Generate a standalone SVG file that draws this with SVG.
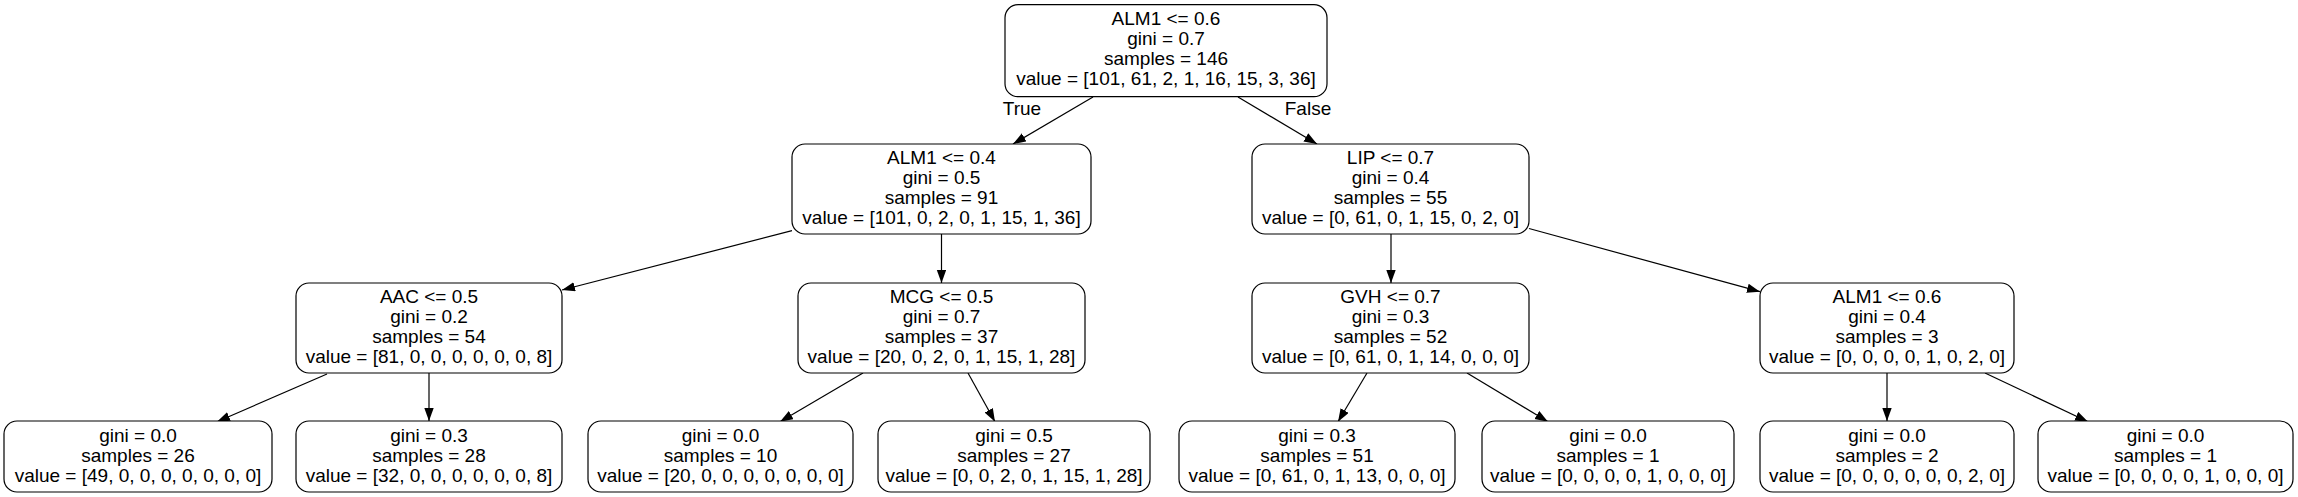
<svg xmlns="http://www.w3.org/2000/svg" width="2298" height="497" viewBox="0 0 2298 497">
<style>
.box{fill:#fff;stroke:#000;stroke-width:1.2}
text{font-family:"Liberation Sans",Arial,sans-serif;font-size:19px;fill:#000;text-anchor:middle}
.edge{stroke:#000;stroke-width:1.2;fill:none;marker-end:url(#arr)}
</style>
<defs>
<marker id="arr" markerUnits="userSpaceOnUse" markerWidth="14" markerHeight="10" refX="13" refY="4.7" orient="auto">
<path d="M0,0 L13,4.7 L0,9.4 z" fill="#000"/>
</marker>
</defs>
<rect width="2298" height="497" fill="#fff"/>
<g id="connectors">
<path class="edge" d="M1093,97 L1013,144"/>
<path class="edge" d="M1238,97 L1317,144"/>
<path class="edge" d="M792,230.7 L562,290"/>
<path class="edge" d="M941.5,234 L941.5,283"/>
<path class="edge" d="M1391,234 L1391,283"/>
<path class="edge" d="M1529,228.5 L1760,291.7"/>
<path class="edge" d="M327,374 L217,421.7"/>
<path class="edge" d="M429,373 L429,421"/>
<path class="edge" d="M863,373 L780,421.7"/>
<path class="edge" d="M968,373 L995,421.7"/>
<path class="edge" d="M1367,373 L1338,421.7"/>
<path class="edge" d="M1467,373 L1548,421.7"/>
<path class="edge" d="M1887,373 L1887,421"/>
<path class="edge" d="M1985,373 L2088,421.7"/>
<text x="1022" y="115">True</text>
<text x="1308" y="115">False</text>
</g>
<g id="n0">
<rect class="box" x="1005" y="4.7" width="322" height="92" rx="13"/>
<text x="1166" y="25">ALM1 &lt;= 0.6</text>
<text x="1166" y="45">gini = 0.7</text>
<text x="1166" y="65">samples = 146</text>
<text x="1166" y="85">value = [101, 61, 2, 1, 16, 15, 3, 36]</text>
</g>
<g id="n1">
<rect class="box" x="792" y="144" width="299" height="90" rx="13"/>
<text x="941.5" y="163.5">ALM1 &lt;= 0.4</text>
<text x="941.5" y="183.5">gini = 0.5</text>
<text x="941.5" y="203.5">samples = 91</text>
<text x="941.5" y="223.5">value = [101, 0, 2, 0, 1, 15, 1, 36]</text>
</g>
<g id="n8">
<rect class="box" x="1252" y="144" width="277" height="90" rx="13"/>
<text x="1390.5" y="163.5">LIP &lt;= 0.7</text>
<text x="1390.5" y="183.5">gini = 0.4</text>
<text x="1390.5" y="203.5">samples = 55</text>
<text x="1390.5" y="223.5">value = [0, 61, 0, 1, 15, 0, 2, 0]</text>
</g>
<g id="n2">
<rect class="box" x="296" y="283" width="266" height="90" rx="13"/>
<text x="429" y="303">AAC &lt;= 0.5</text>
<text x="429" y="323">gini = 0.2</text>
<text x="429" y="343">samples = 54</text>
<text x="429" y="363">value = [81, 0, 0, 0, 0, 0, 0, 8]</text>
</g>
<g id="n5">
<rect class="box" x="798" y="283" width="287" height="90" rx="13"/>
<text x="941.5" y="303">MCG &lt;= 0.5</text>
<text x="941.5" y="323">gini = 0.7</text>
<text x="941.5" y="343">samples = 37</text>
<text x="941.5" y="363">value = [20, 0, 2, 0, 1, 15, 1, 28]</text>
</g>
<g id="n9">
<rect class="box" x="1252" y="283" width="277" height="90" rx="13"/>
<text x="1390.5" y="303">GVH &lt;= 0.7</text>
<text x="1390.5" y="323">gini = 0.3</text>
<text x="1390.5" y="343">samples = 52</text>
<text x="1390.5" y="363">value = [0, 61, 0, 1, 14, 0, 0, 0]</text>
</g>
<g id="n12">
<rect class="box" x="1760" y="283" width="254" height="90" rx="13"/>
<text x="1887" y="303">ALM1 &lt;= 0.6</text>
<text x="1887" y="323">gini = 0.4</text>
<text x="1887" y="343">samples = 3</text>
<text x="1887" y="363">value = [0, 0, 0, 0, 1, 0, 2, 0]</text>
</g>
<g id="n3">
<rect class="box" x="4" y="421" width="268" height="71" rx="13"/>
<text x="138" y="441.5">gini = 0.0</text>
<text x="138" y="461.5">samples = 26</text>
<text x="138" y="481.5">value = [49, 0, 0, 0, 0, 0, 0, 0]</text>
</g>
<g id="n4">
<rect class="box" x="296" y="421" width="266" height="71" rx="13"/>
<text x="429" y="441.5">gini = 0.3</text>
<text x="429" y="461.5">samples = 28</text>
<text x="429" y="481.5">value = [32, 0, 0, 0, 0, 0, 0, 8]</text>
</g>
<g id="n6">
<rect class="box" x="588" y="421" width="265" height="71" rx="13"/>
<text x="720.5" y="441.5">gini = 0.0</text>
<text x="720.5" y="461.5">samples = 10</text>
<text x="720.5" y="481.5">value = [20, 0, 0, 0, 0, 0, 0, 0]</text>
</g>
<g id="n7">
<rect class="box" x="878" y="421" width="272" height="71" rx="13"/>
<text x="1014" y="441.5">gini = 0.5</text>
<text x="1014" y="461.5">samples = 27</text>
<text x="1014" y="481.5">value = [0, 0, 2, 0, 1, 15, 1, 28]</text>
</g>
<g id="n10">
<rect class="box" x="1179" y="421" width="276" height="71" rx="13"/>
<text x="1317" y="441.5">gini = 0.3</text>
<text x="1317" y="461.5">samples = 51</text>
<text x="1317" y="481.5">value = [0, 61, 0, 1, 13, 0, 0, 0]</text>
</g>
<g id="n11">
<rect class="box" x="1482" y="421" width="252" height="71" rx="13"/>
<text x="1608" y="441.5">gini = 0.0</text>
<text x="1608" y="461.5">samples = 1</text>
<text x="1608" y="481.5">value = [0, 0, 0, 0, 1, 0, 0, 0]</text>
</g>
<g id="n13">
<rect class="box" x="1760" y="421" width="254" height="71" rx="13"/>
<text x="1887" y="441.5">gini = 0.0</text>
<text x="1887" y="461.5">samples = 2</text>
<text x="1887" y="481.5">value = [0, 0, 0, 0, 0, 0, 2, 0]</text>
</g>
<g id="n14">
<rect class="box" x="2038" y="421" width="255" height="71" rx="13"/>
<text x="2165.5" y="441.5">gini = 0.0</text>
<text x="2165.5" y="461.5">samples = 1</text>
<text x="2165.5" y="481.5">value = [0, 0, 0, 0, 1, 0, 0, 0]</text>
</g>
</svg>
